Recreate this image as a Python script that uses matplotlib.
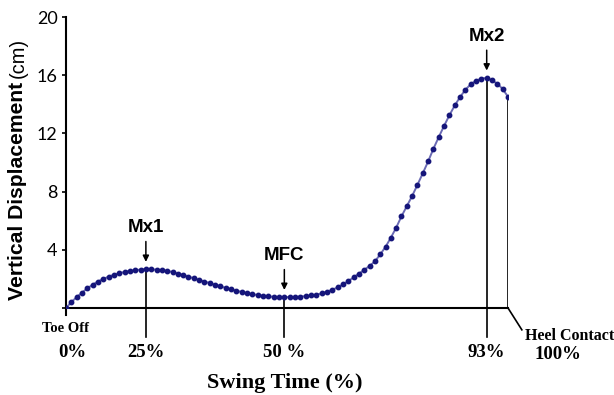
import matplotlib
matplotlib.use("Agg")
import matplotlib.pyplot as plt

# swing phase samples (evenly spaced) and vertical toe displacement (cm)
sample = list(range(84))
displacement = [
    0.00, 0.40, 0.75, 1.05, 1.35, 1.60, 1.82, 2.00, 2.15, 2.28,
    2.39, 2.48, 2.55, 2.60, 2.64, 2.67, 2.66, 2.63, 2.60, 2.55,
    2.47, 2.37, 2.27, 2.16, 2.04, 1.93, 1.82, 1.71, 1.60, 1.49,
    1.38, 1.28, 1.19, 1.10, 1.02, 0.95, 0.89, 0.84, 0.80, 0.77,
    0.75, 0.74, 0.75, 0.76, 0.78, 0.82, 0.86, 0.92, 1.00, 1.12,
    1.25, 1.42, 1.62, 1.85, 2.10, 2.36, 2.62, 2.89, 3.20, 3.68,
    4.20, 4.83, 5.52, 6.30, 7.00, 7.70, 8.47, 9.26, 10.07, 10.95,
    11.75, 12.52, 13.25, 13.92, 14.50, 15.00, 15.38, 15.62, 15.76, 15.82,
    15.64, 15.42, 15.05, 14.52,
]

# events: sample index, arrow label, axis label
event_idx = [15, 41, 79]
event_names = ["Mx1", "MFC", "Mx2"]
event_pct = ["25%", "50 %", "93%"]
end_idx = 83

yticks = [0, 4, 8, 12, 16, 20]
ytick_labels = ["", "4", "8", "12", "16", "20"]

serif = "Liberation Serif"
sans = "Liberation Sans"

fig = plt.figure(figsize=(6.14, 3.95), dpi=100)
ax = fig.add_axes([66 / 614, 1 - 308 / 395, 442 / 614, 291 / 395])

ax.plot(sample, displacement, color="#6a6ab4", lw=1.4, zorder=2)
ax.plot(sample, displacement, ls="none", marker="o", ms=3.2,
        color="#15157a", zorder=3)

ax.set_xlim(0, end_idx)
ax.set_ylim(0, 20)

for s in ["top", "right"]:
    ax.spines[s].set_visible(False)
ax.spines["left"].set_linewidth(1.5)
ax.spines["bottom"].set_linewidth(1.5)

ax.set_xticks([])
ax.set_yticks(yticks)
ax.set_yticklabels(ytick_labels, fontfamily="Lato", fontsize=13)
ax.tick_params(axis="y", direction="out", length=3, width=1.2, pad=3)

# drop lines + arrows at the events
for i, name, pct in zip(event_idx, event_names, event_pct):
    yv = displacement[i]
    ax.plot([i, i], [yv, -2.0], color="k", lw=1.2, clip_on=False, zorder=1)
    ax.annotate("", xy=(i, yv + 0.5), xytext=(i, yv + 1.9),
                arrowprops=dict(arrowstyle="-|>", color="k", lw=1.1,
                                mutation_scale=9, shrinkA=0, shrinkB=0))
    ax.text(i, yv + 2.85, name, ha="center", va="center",
            fontfamily=sans, fontweight="bold", fontsize=13.5)
    ax.text(i, -3.05, pct, ha="center", va="center", fontfamily=serif,
            fontweight="bold", fontsize=13.5, clip_on=False)

# end of swing: heel contact
ax.plot([end_idx, end_idx], [displacement[-1], 0], color="k", lw=1.2, zorder=1)
ax.plot([end_idx, 85.6], [0, -1.5], color="k", lw=1.2, clip_on=False)
ax.text(86.2, -1.95, "Heel Contact", ha="left", va="center", fontfamily=serif,
        fontweight="bold", fontsize=11.5)
ax.text(92.4, -3.2, "100%", ha="center", va="center", fontfamily=serif,
        fontweight="bold", fontsize=13.5)

# toe off
ax.plot([0, 0], [0, -0.5], color="k", lw=1.5, clip_on=False)
ax.text(0.0, -1.4, "Toe Off", ha="center", va="center", fontfamily=serif,
        fontweight="bold", fontsize=10.5)
ax.text(1.1, -3.05, "0%", ha="center", va="center", fontfamily=serif,
        fontweight="bold", fontsize=13.5)

fig.text(285 / 614, 1 - 383 / 395, "Swing Time (%)", ha="center", va="center",
         fontfamily=serif, fontweight="bold", fontsize=16)

# y label: bold part + regular unit
t1 = fig.text(18 / 614, 1 - 300 / 395, "Vertical Displacement", rotation=90,
              ha="center", va="bottom", fontfamily=sans, fontweight="bold",
              fontsize=15.2)
fig.canvas.draw()
bb = t1.get_window_extent()
fig.text(18 / 614, (bb.y1 + 4) / fig.bbox.height, "(cm)", rotation=90,
         ha="center", va="bottom", fontfamily=sans, fontsize=14.5)

fig.savefig("out.png", dpi=100)
